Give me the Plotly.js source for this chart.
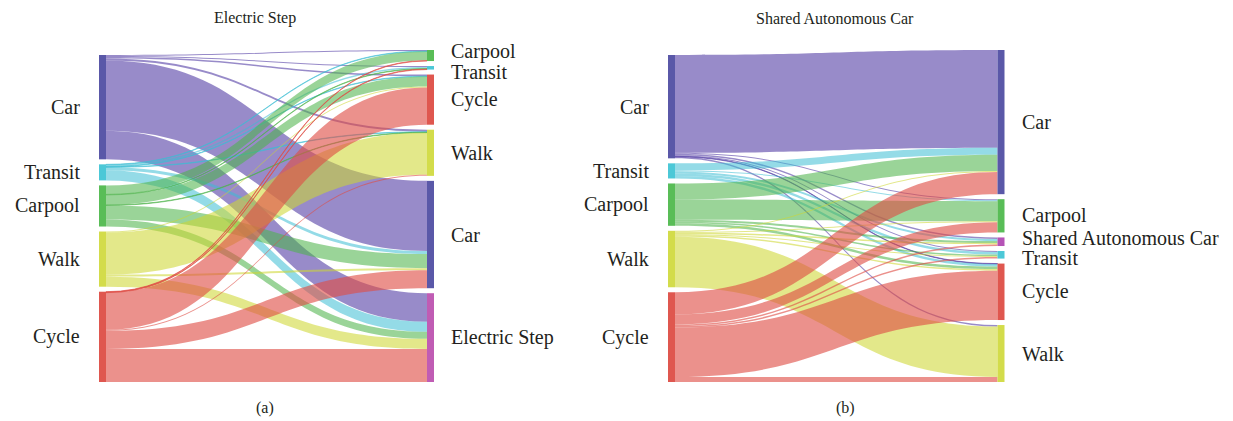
<!DOCTYPE html>
<html>
<head>
<meta charset="utf-8">
<script src="https://cdn.plot.ly/plotly-3.0.1.min.js"></script>
<style>html,body{margin:0;padding:0;background:#fff;}#chart{width:1233px;height:421px;}</style>
</head>
<body>
<div id="chart"></div>
<script>
// ---------- DATA ----------
const sourceModes = ['Car', 'Transit', 'Carpool', 'Walk', 'Cycle'];

// Panel (a): Electric Step
const titleA = 'Electric Step';
const targetsA = ['Carpool', 'Transit', 'Cycle', 'Walk', 'Car', 'Electric Step'];
const flowsA_Car     = [1,   1,   1.5, 2,   70, 28.5];
const flowsA_Transit = [0.5, 1.5, 0.5, 0.5, 3,  10];
const flowsA_Carpool = [9,   0.5, 10,  0.5, 14, 7];
const flowsA_Walk    = [0,   0,   1,   42,  2,  10];
const flowsA_Cycle   = [0.5, 0.5, 37,  1,   18, 33];

// Panel (b): Shared Autonomous Car
const titleB = 'Shared Autonomous Car';
const targetsB = ['Car', 'Carpool', 'Shared Autonomous Car', 'Transit', 'Cycle', 'Walk'];
const flowsB_Car     = [97, 1,  1.5, 1,   0.5, 1.5];
const flowsB_Transit = [7,  1,  2,   2.5, 2.5, 0];
const flowsB_Carpool = [16, 20, 2,   1.5, 2.5, 0];
const flowsB_Walk    = [1,  1,  1.5, 1,   1.5, 50];
const flowsB_Cycle   = [22, 10, 1.5, 1.5, 49,  5];

const panelLabels = ['(a)', '(b)'];

// ---------- STYLE ----------
const nodeColors = {
  'Car': '#5a58a8', 'Transit': '#4cc8d7', 'Carpool': '#59bd57', 'Walk': '#d3dc4b',
  'Cycle': '#df574f', 'Electric Step': '#c05cb4', 'Shared Autonomous Car': '#b553b6'
};
const linkColors = {
  'Car': 'rgba(88,68,168,0.62)', 'Transit': 'rgba(60,190,212,0.55)', 'Carpool': 'rgba(78,180,74,0.57)',
  'Walk': 'rgba(205,215,50,0.57)', 'Cycle': 'rgba(222,78,70,0.62)'
};
const FONT = 'Liberation Serif, Times New Roman, serif';
const W = 1233, HP = 421;
const PAD = 5, THICK = 7;
const TOPPX = 50, BOTPX = 382;
const MINGAP = 20;

function declutter(ys) {
  const y = ys.slice();
  for (let it = 0; it < 50; it++) {
    let moved = false;
    for (let i = 1; i < y.length; i++) {
      const d = y[i] - y[i - 1];
      if (d < MINGAP - 0.01) { const s = (MINGAP - d) / 2; y[i - 1] -= s; y[i] += s; moved = true; }
    }
    if (!moved) break;
  }
  return y;
}

function buildPanel(targets, matrix, leftPx, rightPx, titleText, titleX, panelLabel) {
  const nS = sourceModes.length, nT = targets.length;
  const src = [], tgt = [], val = [], col = [];
  matrix.forEach((row, i) => row.forEach((v, j) => {
    if (v > 0) { src.push(i); tgt.push(nS + j); val.push(v); col.push(linkColors[sourceModes[i]]); }
  }));
  const leftTot = matrix.map(r => r.reduce((a, b) => a + b, 0));
  const rightTot = targets.map((_, j) => matrix.reduce((a, r) => a + r[j], 0));
  const H = BOTPX - TOPPX;
  const sumL = leftTot.reduce((a, b) => a + b, 0), sumR = rightTot.reduce((a, b) => a + b, 0);
  const ky = Math.min((H - (nS - 1) * PAD) / sumL, (H - (nT - 1) * PAD) / sumR);
  function centers(tots) {
    const n = tots.length;
    const used = tots.reduce((a, b) => a + b, 0) * ky + (n - 1) * PAD;
    let y = H - used; const out = [];
    tots.forEach(v => { out.push(y + v * ky / 2); y += v * ky + PAD; });
    return out;
  }
  const cL = centers(leftTot), cR = centers(rightTot);
  const nodeX = [], nodeY = [];
  cL.forEach(c => { nodeX.push(1e-6); nodeY.push(c / H); });
  cR.forEach(c => { nodeX.push(1); nodeY.push(c / H); });
  const names = sourceModes.concat(targets);
  const trace = {
    type: 'sankey', arrangement: 'fixed',
    domain: { x: [leftPx / W, rightPx / W], y: [(HP - BOTPX) / HP, (HP - TOPPX) / HP] },
    node: {
      label: names.map(() => ''), customdata: names,
      hovertemplate: '%{customdata}<extra></extra>',
      x: nodeX, y: nodeY, pad: PAD, thickness: THICK,
      color: names.map(n => nodeColors[n]), line: { width: 0 }
    },
    link: { source: src, target: tgt, value: val, color: col, line: { width: 0 } }
  };
  const ann = [];
  const labL = declutter(cL.map(c => TOPPX + c));
  labL.forEach((y, i) => ann.push({
    x: (leftPx - THICK / 2 - 17) / W, y: (HP - y) / HP, xref: 'paper', yref: 'paper',
    xanchor: 'right', yanchor: 'middle', showarrow: false, text: sourceModes[i],
    font: { family: FONT, size: 20, color: '#231f20' }
  }));
  const labR = declutter(cR.map(c => TOPPX + c));
  labR.forEach((y, j) => ann.push({
    x: (rightPx + THICK / 2 + 15) / W, y: (HP - y) / HP, xref: 'paper', yref: 'paper',
    xanchor: 'left', yanchor: 'middle', showarrow: false, text: targets[j],
    font: { family: FONT, size: 20, color: '#231f20' }
  }));
  ann.push({ x: titleX / W, y: (HP - 18) / HP, xref: 'paper', yref: 'paper', xanchor: 'center', yanchor: 'middle',
    showarrow: false, text: titleText, font: { family: FONT, size: 16, color: '#231f20' } });
  ann.push({ x: (titleX + 10) / W, y: (HP - 408) / HP, xref: 'paper', yref: 'paper', xanchor: 'center', yanchor: 'middle',
    showarrow: false, text: panelLabel, font: { family: FONT, size: 16, color: '#231f20' } });
  return { trace, ann };
}

const matA = [flowsA_Car, flowsA_Transit, flowsA_Carpool, flowsA_Walk, flowsA_Cycle];
const matB = [flowsB_Car, flowsB_Transit, flowsB_Carpool, flowsB_Walk, flowsB_Cycle];
const pA = buildPanel(targetsA, matA, 102.5, 430.5, titleA, 255, panelLabels[0]);
const pB = buildPanel(targetsB, matB, 671.5, 1001, titleB, 835, panelLabels[1]);

Plotly.newPlot('chart', [pA.trace, pB.trace], {
  width: W, height: HP, margin: { l: 0, r: 0, t: 0, b: 0 },
  paper_bgcolor: '#ffffff', showlegend: false,
  font: { family: FONT },
  annotations: pA.ann.concat(pB.ann)
}, { displayModeBar: false });
</script>
</body>
</html>
